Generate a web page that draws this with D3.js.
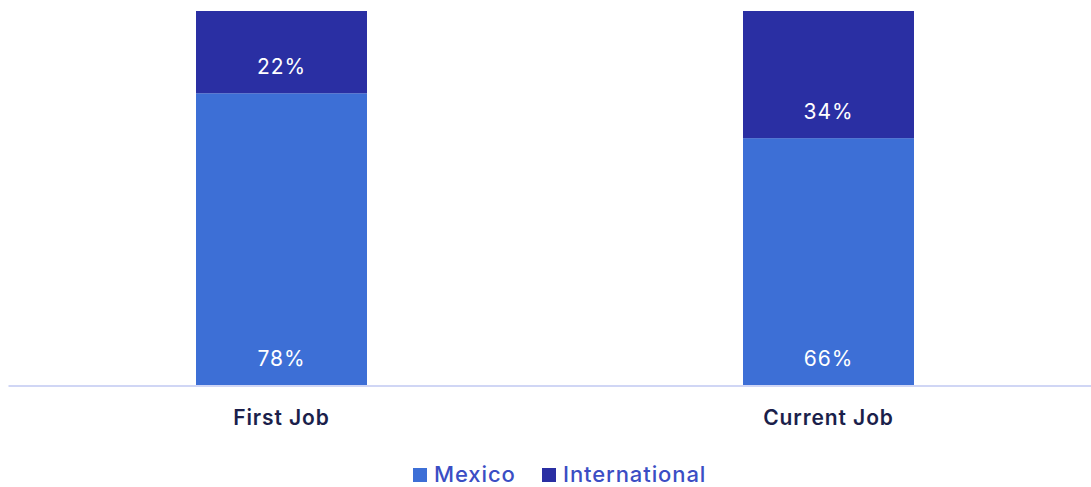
<!DOCTYPE html>
<html>
<head>
<meta charset="utf-8">
<script src="https://cdn.jsdelivr.net/npm/d3@7/dist/d3.min.js"></script>
<style>
  html, body { margin: 0; padding: 0; background: #fff; }
  svg { display: block; font-family: "Inter", sans-serif; }
</style>
</head>
<body>
<svg id="chart" width="1091" height="487"></svg>
<script>
// Share of graduates by job location
const categories = ["First Job", "Current Job"];
const seriesNames = ["Mexico", "International"];
const mexico = [78, 66];
const international = [22, 34];
const colors = ["#3d6fd6", "#2a2fa3"];

const width = 1091, height = 487;
const margin = { top: 11, bottom: 102, left: 8 };

const svg = d3.select("#chart");

const rows = categories.map((c, i) => ({ category: c, Mexico: mexico[i], International: international[i] }));
const stacked = d3.stack().keys(seriesNames)(rows);

// the band range runs a little past the right edge of the view
const x = d3.scaleBand()
  .domain(categories)
  .range([margin.left, 1102])
  .paddingInner(0.6874)
  .paddingOuter(0.3437);

const y = d3.scaleLinear()
  .domain([0, 100])
  .range([height - margin.bottom, margin.top]);

const color = d3.scaleOrdinal().domain(seriesNames).range(colors);

// stacked segments
const layer = svg.append("g")
  .selectAll("g")
  .data(stacked)
  .join("g")
  .attr("fill", d => color(d.key));

layer.selectAll("rect")
  .data(d => d)
  .join("rect")
  .attr("x", d => x(d.data.category))
  .attr("width", x.bandwidth())
  .attr("y", d => y(d[1]))
  .attr("height", d => y(d[0]) - y(d[1]));

// value labels, placed just inside the bottom of each segment
layer.selectAll("text")
  .data(d => d)
  .join("text")
  .attr("x", d => x(d.data.category) + x.bandwidth() / 2)
  .attr("y", d => y(d[0]) - 27)
  .attr("text-anchor", "middle")
  .attr("dominant-baseline", "central")
  .attr("fill", "#ffffff")
  .attr("font-size", 21)
  .attr("letter-spacing", 1)
  .text(d => (d[1] - d[0]) + "%");

// baseline axis
const axis = svg.append("g")
  .attr("transform", `translate(0,${y(0) + 0.5})`)
  .call(d3.axisBottom(x).tickSize(0).tickPadding(25));
axis.select(".domain").attr("stroke", "#d0d6f5").attr("stroke-width", 2);
axis.selectAll(".tick text")
  .attr("font-size", 21)
  .attr("font-weight", 600)
  .attr("letter-spacing", 0.9)
  .attr("fill", "#1b1f4b")
  .attr("font-family", "Inter, sans-serif");

// legend
const legendItems = [
  { name: "Mexico", x: 413 },
  { name: "International", x: 542 }
];
const legend = svg.append("g");
const li = legend.selectAll("g")
  .data(legendItems)
  .join("g")
  .attr("transform", d => `translate(${d.x},474)`);
li.append("rect")
  .attr("x", 0).attr("y", -6)
  .attr("width", 14).attr("height", 14)
  .attr("fill", d => color(d.name));
li.append("text")
  .attr("x", 21)
  .attr("y", 0)
  .attr("dominant-baseline", "central")
  .attr("font-size", 22)
  .attr("font-weight", 500)
  .attr("letter-spacing", 0.9)
  .attr("fill", "#3b4ec4")
  .text(d => d.name);
</script>
</body>
</html>
